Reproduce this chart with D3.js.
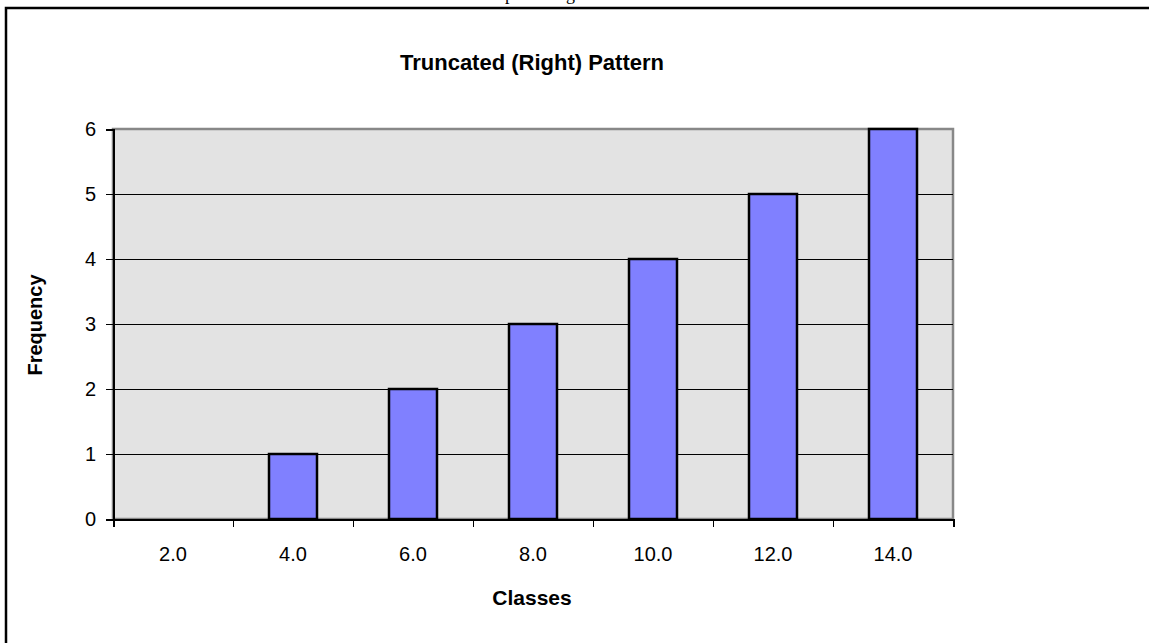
<!DOCTYPE html>
<html lang="en">
<head>
<meta charset="utf-8">
<title>Truncated (Right) Pattern</title>
<script src="https://cdn.jsdelivr.net/npm/d3@7"></script>
<style>
    body { margin: 0; background: #fff; }
    .axis text { font-family: "Liberation Sans", Arial, sans-serif; font-size: 20px; fill: #000; }
    .axis path, .axis line { stroke: #000; shape-rendering: crispEdges; }
</style>
</head>
<body>
<script>
    // data
    var classes = ["2.0", "4.0", "6.0", "8.0", "10.0", "12.0", "14.0"];
    var frequency = [0, 1, 2, 3, 4, 5, 6];
    var yTicks = [0, 1, 2, 3, 4, 5, 6];

    var w = 1149, h = 643;
    var plot = {left: 113, right: 953, top: 129, bottom: 519};

    var svg = d3.select("body").append("svg")
        .attr("width", w)
        .attr("height", h);

    // text line from the page above, clipped by the top edge
    svg.append("text")
        .attr("x", 505)
        .attr("y", 0)
        .attr("font-family", "Liberation Serif, serif")
        .attr("font-size", "18px")
        .text("percentage");

    // chart frame (runs past the right and bottom edges)
    svg.append("rect")
        .attr("x", 6)
        .attr("y", 8)
        .attr("width", w + 20)
        .attr("height", h + 20)
        .attr("fill", "none")
        .attr("stroke", "#000")
        .attr("stroke-width", 2.5);

    var xScale = d3.scaleBand()
        .domain(classes)
        .range([plot.left, plot.right])
        .paddingInner(0.6)
        .paddingOuter(0.3);

    // category boundaries for the tick marks
    var edgeScale = d3.scaleLinear()
        .domain([0, classes.length])
        .range([plot.left, plot.right]);

    var yScale = d3.scaleLinear()
        .domain([0, 6])
        .range([plot.bottom, plot.top]);

    // plot area
    svg.append("rect")
        .attr("x", plot.left)
        .attr("y", plot.top)
        .attr("width", plot.right - plot.left)
        .attr("height", plot.bottom - plot.top)
        .attr("fill", "#e3e3e3")
        .attr("stroke", "#888")
        .attr("stroke-width", 2.5);

    // gridlines
    svg.selectAll("line.grid")
        .data(yTicks.filter(function(d) { return d > 0 && d < 6; }))
        .enter()
        .append("line")
        .attr("class", "grid")
        .attr("x1", plot.left)
        .attr("x2", plot.right)
        .attr("y1", function(d) { return Math.round(yScale(d)) + 0.5; })
        .attr("y2", function(d) { return Math.round(yScale(d)) + 0.5; })
        .attr("stroke", "#000")
        .attr("stroke-width", 1);

    // bars
    svg.selectAll("rect.bar")
        .data(frequency)
        .enter()
        .append("rect")
        .attr("class", "bar")
        .attr("x", function(d, i) { return xScale(classes[i]); })
        .attr("y", function(d) { return yScale(d); })
        .attr("width", xScale.bandwidth())
        .attr("height", function(d) { return plot.bottom - yScale(d); })
        .attr("fill", "#8080ff")
        .attr("stroke", "#000")
        .attr("stroke-width", function(d) { return d > 0 ? 2.5 : 0; });

    // y axis
    var yAxis = d3.axisLeft(yScale)
        .tickValues(yTicks)
        .tickFormat(d3.format("d"))
        .tickSize(7)
        .tickPadding(10);

    svg.append("g")
        .attr("class", "axis")
        .attr("transform", "translate(" + plot.left + ",0)")
        .call(yAxis)
        .call(function(g) { g.select(".domain").attr("stroke-width", 2); });

    // x axis: tick marks at category edges
    var xEdges = d3.axisBottom(edgeScale)
        .ticks(classes.length)
        .tickFormat("")
        .tickSize(8);

    svg.append("g")
        .attr("class", "axis")
        .attr("transform", "translate(0," + plot.bottom + ")")
        .call(xEdges)
        .call(function(g) { g.select(".domain").attr("stroke-width", 2); });

    // x axis: labels centred in categories
    var xLabels = d3.axisBottom(xScale)
        .tickSize(0)
        .tickPadding(28);

    svg.append("g")
        .attr("class", "axis")
        .attr("transform", "translate(0," + plot.bottom + ")")
        .call(xLabels)
        .call(function(g) { g.select(".domain").remove(); });

    // titles
    svg.append("text")
        .attr("x", 532)
        .attr("y", 70)
        .attr("text-anchor", "middle")
        .attr("font-family", "Liberation Sans, Arial, sans-serif")
        .attr("font-weight", "bold")
        .attr("font-size", "22px")
        .text("Truncated (Right) Pattern");

    svg.append("text")
        .attr("x", 532)
        .attr("y", 605)
        .attr("text-anchor", "middle")
        .attr("font-family", "Liberation Sans, Arial, sans-serif")
        .attr("font-weight", "bold")
        .attr("font-size", "21px")
        .text("Classes");

    svg.append("text")
        .attr("transform", "translate(42,325) rotate(-90)")
        .attr("text-anchor", "middle")
        .attr("font-family", "Liberation Sans, Arial, sans-serif")
        .attr("font-weight", "bold")
        .attr("font-size", "20px")
        .text("Frequency");
</script>
</body>
</html>
